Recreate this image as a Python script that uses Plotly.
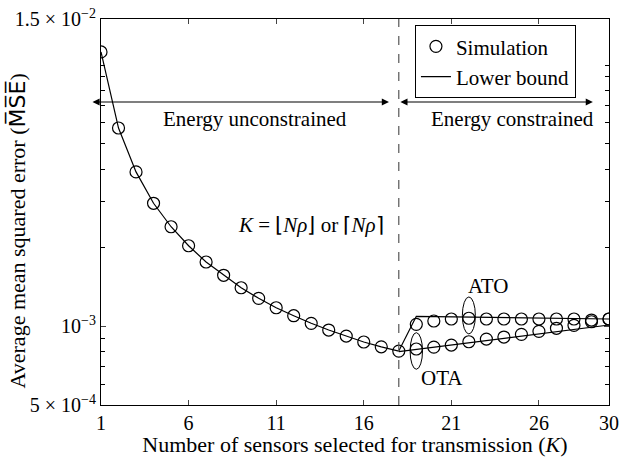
import plotly.graph_objects as go
import math

# ---------------- data ----------------
K_unc = list(range(1, 19))
sim_unc = [1.122e-2, 5.74e-3, 3.90e-3, 2.957e-3, 2.405e-3, 2.034e-3, 1.763e-3,
           1.568e-3, 1.405e-3, 1.280e-3, 1.178e-3, 1.098e-3, 1.027e-3, 9.68e-4,
           9.18e-4, 8.71e-4, 8.35e-4, 8.04e-4]
bound_unc = [1.122e-2, 5.74e-3, 3.90e-3, 2.957e-3, 2.405e-3, 2.034e-3, 1.763e-3,
             1.568e-3, 1.405e-3, 1.280e-3, 1.178e-3, 1.098e-3, 1.027e-3, 9.68e-4,
             9.18e-4, 8.71e-4, 8.35e-4, 8.04e-4]

K_con = list(range(19, 31))
sim_ato = [1.018e-3, 1.048e-3, 1.067e-3, 1.074e-3, 1.067e-3, 1.067e-3,
           1.067e-3, 1.067e-3, 1.067e-3, 1.067e-3, 1.057e-3, 1.067e-3]
sim_ota = [8.19e-4, 8.33e-4, 8.48e-4, 8.73e-4, 8.94e-4, 9.10e-4,
           9.32e-4, 9.57e-4, 9.83e-4, 1.009e-3, 1.041e-3, 1.067e-3]

K_bound_ato = [18, 19, 30]
bound_ato = [8.04e-4, 1.092e-3, 1.067e-3]
K_bound_ota = [18, 30]
bound_ota = [8.0e-4, 1.012e-3]

x_ticks = [1, 6, 11, 16, 21, 26, 30]
y_ticks = [5e-4, 1e-3, 1.5e-2]
y_ticktext = ["5 × 10<sup>−4</sup>", "10<sup>−3</sup>", "1.5 × 10<sup>−2</sup>"]
y_minor = [6e-4, 7e-4, 8e-4, 9e-4, 2e-3, 3e-3, 4e-3, 5e-3, 6e-3, 7e-3, 8e-3, 9e-3, 1e-2]
K_boundary = 18
K_ato_mark = 22
K_ota_mark = 19

# ---------------- figure ----------------
FONT = "Liberation Serif"
fig = go.Figure()

line_style = dict(color="black", width=1.2)
marker_style = dict(symbol="circle-open", size=12, color="black", line=dict(color="black", width=1.2))

fig.add_trace(go.Scatter(x=K_unc, y=sim_unc, mode="markers", marker=marker_style,
                         name="Simulation", legendgroup="sim", showlegend=True))
fig.add_trace(go.Scatter(x=K_con, y=sim_ato, mode="markers", marker=marker_style,
                         name="Simulation", legendgroup="sim", showlegend=False))
fig.add_trace(go.Scatter(x=K_con, y=sim_ota, mode="markers", marker=marker_style,
                         name="Simulation", legendgroup="sim", showlegend=False))
fig.add_trace(go.Scatter(x=K_unc, y=bound_unc, mode="lines", line=line_style,
                         name="Lower bound", legendgroup="lb", showlegend=True))
fig.add_trace(go.Scatter(x=K_bound_ato, y=bound_ato, mode="lines", line=line_style,
                         name="Lower bound", legendgroup="lb", showlegend=False))
fig.add_trace(go.Scatter(x=K_bound_ota, y=bound_ota, mode="lines", line=line_style,
                         name="Lower bound", legendgroup="lb", showlegend=False))

# dashed boundary line
fig.add_shape(type="line", xref="x", yref="paper", x0=K_boundary, x1=K_boundary, y0=0, y1=1,
              line=dict(color="#555555", width=1.2, dash="dash"))

# ellipses
fig.add_shape(type="circle", xref="x", yref="paper", xsizemode="pixel", ysizemode="pixel",
              xanchor=K_ato_mark, yanchor=0.232, x0=-6.5, x1=6.5, y0=-18.5, y1=18.5,
              line=dict(color="black", width=1))
fig.add_shape(type="circle", xref="x", yref="paper", xsizemode="pixel", ysizemode="pixel",
              xanchor=K_ota_mark, yanchor=0.14, x0=-6.2, x1=6.2, y0=-18.3, y1=18.3,
              line=dict(color="black", width=1))

# double arrows
arrow_y = 0.785
fig.add_annotation(x=17.44, y=arrow_y, xref="x", yref="paper", ax=-298, ay=0,
                   axref="pixel", ayref="pixel", text="", showarrow=True,
                   arrowhead=2, startarrowhead=2, arrowside="end+start",
                   arrowsize=1.3, startarrowsize=1.3, arrowwidth=1.1, arrowcolor="black",
                   standoff=0, startstandoff=0)
fig.add_annotation(x=29.08, y=arrow_y, xref="x", yref="paper", ax=-194, ay=0,
                   axref="pixel", ayref="pixel", text="", showarrow=True,
                   arrowhead=2, startarrowhead=2, arrowside="end+start",
                   arrowsize=1.3, startarrowsize=1.3, arrowwidth=1.1, arrowcolor="black",
                   standoff=0, startstandoff=0)

tfont = dict(family=FONT, size=21, color="black")
labels = [
    (9.79, 0.741, "Energy unconstrained"),
    (24.5, 0.741, "Energy constrained"),
    (12.96, 0.466, "<i>K</i> = ⌊<i>Nρ</i>⌋ or ⌈<i>Nρ</i>⌉"),
    (23.09, 0.308, "ATO"),
    (20.46, 0.070, "OTA"),
]
for lx, ly, lt in labels:
    fig.add_annotation(x=lx, y=ly, xref="x", yref="paper", text=lt, showarrow=False,
                       xanchor="center", yanchor="middle", font=tfont)

# y-axis title as rotated text
fig.add_annotation(x=-0.165, y=0.45, xref="paper", yref="paper", textangle=-90,
                   text="Average mean squared error (<span style='font-family:DejaVu Sans'>M\u0305S\u0305E\u0305</span>)",
                   showarrow=False, xanchor="center", yanchor="middle",
                   font=dict(family=FONT, size=22, color="black"))

fig.update_layout(
    width=629, height=457,
    margin=dict(l=101, r=20, t=19, b=52),
    plot_bgcolor="white", paper_bgcolor="white",
    font=dict(family=FONT, size=20, color="black"),
    legend=dict(x=0.618, y=0.984, xanchor="left", yanchor="top",
                bgcolor="white", bordercolor="black", borderwidth=1,
                font=dict(family=FONT, size=21, color="black"),
                tracegroupgap=0),
    xaxis=dict(range=[1, 30], tickvals=x_ticks, ticks="inside", ticklen=5,
               showline=True, linecolor="black", linewidth=1, mirror="ticks",
               showgrid=False, zeroline=False, tickfont=dict(size=20),
               automargin=False,
               title=dict(text="Number of sensors selected for transmission (<i>K</i>)",
                          font=dict(size=22), standoff=0)),
    yaxis=dict(type="log", range=[math.log10(5e-4), math.log10(1.5e-2)],
               tickvals=y_ticks, ticktext=y_ticktext, ticks="inside", ticklen=5,
               minor=dict(tickvals=y_minor, ticks="inside", ticklen=4, tickcolor="black"),
               showline=True, linecolor="black", linewidth=1, mirror="ticks",
               showgrid=False, zeroline=False, tickfont=dict(size=20),
               automargin=False),
)

fig.write_html("out.html")
